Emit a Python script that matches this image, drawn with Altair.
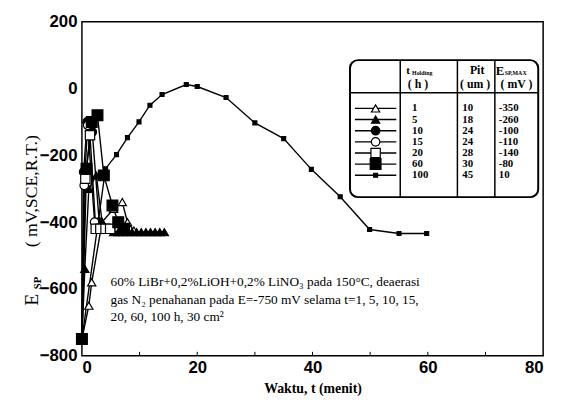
import altair as alt
import pandas as pd

# ---------------- data ----------------
series_names = ["1", "5", "10", "15", "20", "60", "100"]

t_1 = [0, 1.2, 1.7, 3.5, 5.5, 7.0, 7.9, 9.0]
e_1 = [-750, -650, -580, -400, -360, -340, -400, -425]

t_5 = [0, 0.5, 1.2, 2.5, 3.5, 4.5, 5.5, 6.3, 7.1, 7.9, 8.7, 9.5, 10.3, 11.1, 11.9, 12.7, 13.5, 14.3]
e_5 = [-750, -540, -300, -260, -400, -420, -430, -430, -430, -430, -430, -430, -430, -430, -430, -430, -430, -430]

t_10 = [0, 0.3, 0.9, 1.8, 3.0, 4.0, 5.0]
e_10 = [-750, -250, -100, -130, -400, -420, -420]

t_15 = [0, 0.4, 1.0, 2.2, 3.2, 4.2]
e_15 = [-750, -290, -110, -400, -420, -420]

t_20 = [0, 0.6, 1.4, 2.4, 3.2, 4.1, 4.9]
e_20 = [-750, -270, -140, -420, -420, -420, -420]

t_60 = [0, 0.8, 1.7, 2.7, 3.8, 5.3, 6.3, 7.3]
e_60 = [-750, -240, -100, -80, -260, -350, -400, -420]

t_100 = [0, 4.1, 6.0, 7.9, 9.9, 11.8, 13.9, 18.1, 20.0, 25.0, 30.0, 35.0, 39.8, 44.8, 49.9, 55.0, 59.8]
e_100 = [-750, -240, -198, -147, -100, -50, -18, 12, 6, -27, -103, -150, -242, -324, -422, -434, -434]

# table contents
tbl_holding = ["1", "5", "10", "15", "20", "60", "100"]
tbl_pit = ["10", "18", "24", "24", "28", "30", "45"]
tbl_emax = ["-350", "-260", "-100", "-110", "-140", "-80", "10"]

x_ticks = [0, 20, 40, 60, 80]
y_ticks = [-800, -600, -400, -200, 0, 200]

note_lines = [
    "60% LiBr+0,2%LiOH+0,2% LiNO\u2083 pada 150\u00b0C, deaerasi",
    "gas N\u2082 penahanan pada E=-750 mV selama t=1, 5, 10, 15,",
    "20, 60, 100 h, 30 cm\u00b2",
]

# ---------------- build tables ----------------
all_t = [t_1, t_5, t_10, t_15, t_20, t_60, t_100]
all_e = [e_1, e_5, e_10, e_15, e_20, e_60, e_100]
rows = []
for name, ts, es in zip(series_names, all_t, all_e):
    for i, (t, e) in enumerate(zip(ts, es)):
        rows.append({"series": name, "t": t, "E": e, "i": i})
df = pd.DataFrame(rows)

W, H = 468, 339
SERIF = "Liberation Serif"
NARROW = "Liberation Sans Narrow, Liberation Sans, sans-serif"

# marker style per series: (shape, fill, size)
marker_style = {
    "1": ("triangle-up", "white", 70),
    "5": ("triangle-up", "black", 70),
    "10": ("circle", "black", 75),
    "15": ("circle", "white", 75),
    "20": ("square", "white", 90),
    "60": ("square", "black", 120),
    "100": ("square", "black", 16),
}

xs = alt.Scale(domain=[0, 80], nice=False)
ys = alt.Scale(domain=[-800, 200], nice=False)

base = alt.Chart(df)

lines = base.mark_line(color="black", strokeWidth=1.4).encode(
    x=alt.X("t:Q", scale=xs,
            axis=alt.Axis(values=x_ticks, title="Waktu, t (menit)", grid=False, domain=False,
                          ticks=False, labelFont=NARROW, labelFontSize=17, labelFontWeight="bold",
                          labelColor="black", labelPadding=4, titleFont=SERIF, titleFontSize=14,
                          titleFontWeight="bold", titleColor="black", titlePadding=6)),
    y=alt.Y("E:Q", scale=ys,
            axis=alt.Axis(values=y_ticks, title=None, grid=False, domain=False, ticks=False,
                          labelFont=NARROW, labelFontSize=17, labelFontWeight="bold",
                          labelColor="black", labelPadding=5)),
    detail="series:N",
    order="i:Q",
)

point_layers = []
for name in series_names:
    shp, fil, sz = marker_style[name]
    point_layers.append(
        base.transform_filter(alt.datum.series == name).mark_point(
            filled=True, shape=shp, fill=fil, size=sz, stroke="black", strokeWidth=1.2, opacity=1
        ).encode(x=alt.X("t:Q", scale=xs), y=alt.Y("E:Q", scale=ys))
    )

# inward minor ticks on x axis
tick_df = pd.DataFrame({"t": [10, 20, 30, 40, 50, 60, 70]})
xticks = alt.Chart(tick_df).mark_rule(color="black", strokeWidth=1).encode(
    x=alt.X("t:Q", scale=xs), y=alt.value(H), y2=alt.value(H - 4))

# annotation text
note_df = pd.DataFrame({"txt": note_lines, "k": list(range(len(note_lines)))})
notes = alt.Chart(note_df).transform_calculate(py="264 + 18*datum.k").mark_text(
    align="left", baseline="middle", font=SERIF, fontSize=13.5, color="black").encode(
    x=alt.value(29), y=alt.Y("py:Q", scale=None), text="txt:N")

# y-axis title pieces
one = pd.DataFrame({"a": [0]})
yt_e = alt.Chart(one).mark_text(text="E", angle=270, font=SERIF, fontSize=20,
                                align="center", baseline="middle", color="black").encode(
    x=alt.value(-51), y=alt.value(282))
yt_sp = alt.Chart(one).mark_text(text="SP", angle=270, font=SERIF, fontSize=11, fontWeight="bold",
                                 align="center", baseline="middle", color="black").encode(
    x=alt.value(-45), y=alt.value(265))
yt_rest = alt.Chart(one).mark_text(text="( mV,SCE,R.T.)", angle=270, font=SERIF, fontSize=18,
                                   align="center", baseline="middle", color="black").encode(
    x=alt.value(-51), y=alt.value(172))

# ---------------- legend table ----------------
BX0, BX1, BY0, BY1 = 272, 463, 39, 178
box = alt.Chart(one).mark_rect(fill="white", stroke="black", strokeWidth=2, cornerRadius=8).encode(
    x=alt.value(BX0), x2=alt.value(BX1), y=alt.value(BY0), y2=alt.value(BY1))
hsep = alt.Chart(one).mark_rule(color="black", strokeWidth=1.5).encode(
    x=alt.value(BX0), x2=alt.value(BX1), y=alt.value(72))
vsep_df = pd.DataFrame({"px": [323, 381, 419]})
vseps = alt.Chart(vsep_df).mark_rule(color="black", strokeWidth=1.5).encode(
    x=alt.X("px:Q", scale=None), y=alt.value(BY0), y2=alt.value(BY1))

tbl_df = pd.DataFrame({"series": series_names, "hold": tbl_holding, "pit": tbl_pit,
                       "emax": tbl_emax, "k": list(range(7))})
tbl = alt.Chart(tbl_df).transform_calculate(py="88 + 11.3*datum.k")
leg_lines = tbl.mark_rule(color="black", strokeWidth=1.4).encode(
    x=alt.value(277), x2=alt.value(319), y=alt.Y("py:Q", scale=None))
leg_pts = []
for name in series_names:
    shp, fil, sz = marker_style[name]
    leg_pts.append(
        tbl.transform_filter(alt.datum.series == name).mark_point(
            filled=True, shape=shp, fill=fil, size=sz, stroke="black", strokeWidth=1.2, opacity=1
        ).encode(x=alt.value(298), y=alt.Y("py:Q", scale=None))
    )
txt_kw = dict(align="left", baseline="middle", font=SERIF, fontSize=11, fontWeight="bold", color="black")
col_hold = tbl.mark_text(**txt_kw).encode(x=alt.value(335), y=alt.Y("py:Q", scale=None), text="hold:N")
col_pit = tbl.mark_text(**txt_kw).encode(x=alt.value(386), y=alt.Y("py:Q", scale=None), text="pit:N")
col_emax = tbl.mark_text(**txt_kw).encode(x=alt.value(423), y=alt.Y("py:Q", scale=None), text="emax:N")

hdr_kw = dict(baseline="middle", font=SERIF, fontWeight="bold", color="black")
h_t = alt.Chart(one).mark_text(text="t", align="left", fontSize=11, **hdr_kw).encode(
    x=alt.value(329), y=alt.value(50))
h_hold = alt.Chart(one).mark_text(text="Holding", align="left", fontSize=6, **hdr_kw).encode(
    x=alt.value(335), y=alt.value(52))
h_h = alt.Chart(one).mark_text(text="( h )", align="center", fontSize=12, **hdr_kw).encode(
    x=alt.value(341), y=alt.value(63))
h_pit = alt.Chart(one).mark_text(text="Pit", align="center", fontSize=12, **hdr_kw).encode(
    x=alt.value(401), y=alt.value(49))
h_um = alt.Chart(one).mark_text(text="( um )", align="center", fontSize=12, **hdr_kw).encode(
    x=alt.value(399), y=alt.value(63))
h_e = alt.Chart(one).mark_text(text="E", align="left", fontSize=13, **hdr_kw).encode(
    x=alt.value(420), y=alt.value(50))
h_spmax = alt.Chart(one).mark_text(text="SP,MAX", align="left", fontSize=6, **hdr_kw).encode(
    x=alt.value(429), y=alt.value(52))
h_mv = alt.Chart(one).mark_text(text="( mV )", align="center", fontSize=12, **hdr_kw).encode(
    x=alt.value(441), y=alt.value(63))

chart = alt.layer(
    lines, *point_layers, xticks, notes, yt_e, yt_sp, yt_rest,
    box, hsep, vseps, leg_lines, *leg_pts, col_hold, col_pit, col_emax,
    h_t, h_hold, h_h, h_pit, h_um, h_e, h_spmax, h_mv,
).properties(
    width=W, height=H,
    autosize=alt.AutoSizeParams(type="none"),
    padding={"left": 75, "top": 11, "right": 10, "bottom": 45},
    background="white",
).configure_view(stroke="black", strokeWidth=1.5)

chart.save("out.html", embed_options={"renderer": "svg", "actions": False})
